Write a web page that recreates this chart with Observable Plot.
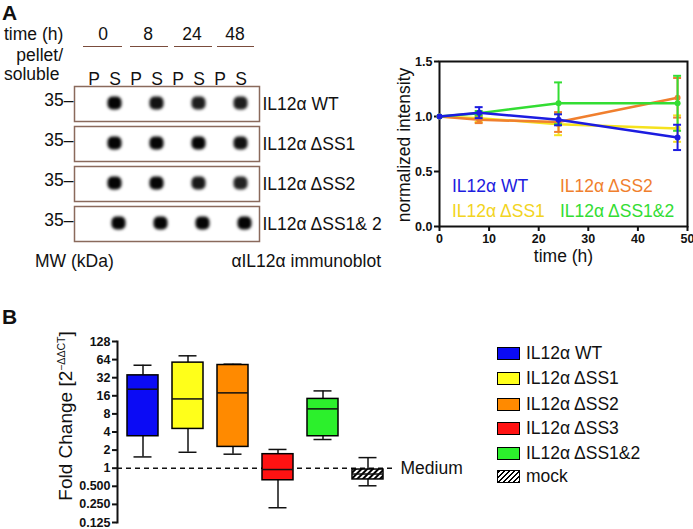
<!DOCTYPE html>
<html><head><meta charset="utf-8">
<script src="https://cdn.jsdelivr.net/npm/d3@7"></script>
<script src="https://cdn.jsdelivr.net/npm/@observablehq/plot@0.6"></script>
<style>
body{margin:0;background:#fff;}
#fig{position:relative;width:693px;height:529px;overflow:hidden;font-family:"Liberation Sans",Arial,Helvetica,sans-serif;color:#111;}
#fig svg{display:block;background:none;max-width:none !important;overflow:visible;}
.lbl{position:absolute;white-space:nowrap;line-height:1;}
</style></head><body><div id="fig"></div>
<script>
// ---------- data ----------
// Panel A blot
const lanes = ["P0","S0","P8","S8","P24","S24","P48","S48"];
const timeLabels = ["0","8","24","48"];
const blotRows = ["WT","ΔSS1","ΔSS2","ΔSS1& 2"];
const bandLanes = ["S0","S8","S24","S48"];
const bandSignal = [[1,0.95,0.9,0.9],[1,1,1,0.95],[1,1,0.92,0.88],[1,1,1,1]];

// Panel A line chart
const times = [0, 8, 24, 48];
const lineSeries = ["IL12α WT","IL12α ΔSS1","IL12α ΔSS2","IL12α ΔSS1&2"];
const lineColors = ["#1c1ce0","#f5e21e","#f07f2e","#33dd33"];
const wtMean   = [1.00, 1.035, 0.97, 0.81];
const wtErr    = [0, 0.05, 0.05, 0.115];
const ss1Mean  = [1.00, 0.985, 0.93, 0.89];
const ss1Err   = [0, 0.035, 0.10, 0.12];
const ss2Mean  = [1.00, 0.97, 0.95, 1.17];
const ss2Err   = [0, 0.03, 0.09, 0.18];
const ss12Mean = [1.00, 1.03, 1.12, 1.12];
const ss12Err  = [0, 0.02, 0.19, 0.25];

// Panel B box plot
const groups = ["IL12α WT","IL12α ΔSS1","IL12α ΔSS2","IL12α ΔSS3","IL12α ΔSS1&2","mock"];
const boxColors = ["#0b0bf5","#ffff1a","#ff8a00","#ff1212","#2cf02c","url(#hatch)"];
const boxMin    = [1.54, 1.84, 1.71, 0.22, 3.0, 0.51];
const boxQ1     = [3.4, 4.5, 2.26, 0.63, 3.4, 0.65];
const boxMedian = [20.6, 14.2, 17.9, 0.95, 9.7, 0.8];
const boxQ3     = [35, 57, 52, 1.71, 14.2, 0.95];
const boxMax    = [51.6, 74, 53.7, 2.05, 19.3, 1.5];
const foldTicks = [0.125,0.25,0.5,1,2,4,8,16,32,64,128];

// ---------- helpers ----------
const FONT = '"Liberation Sans",Arial,Helvetica,sans-serif';
const FS = 17.5;
const fig = document.getElementById("fig");
function label(html, x, cy, {size=FS, anchor="start", color="#111", weight="normal"}={}) {
  const d = document.createElement("div");
  d.className = "lbl"; d.innerHTML = html;
  d.style.fontSize = size + "px"; d.style.color = color; d.style.fontWeight = weight;
  d.style.left = x + "px"; d.style.top = (cy - size * 0.5) + "px";
  const tx = anchor === "end" ? "-100%" : anchor === "middle" ? "-50%" : "0";
  d.style.transform = `translateX(${tx})`;
  fig.appendChild(d); return d;
}
function vlabel(html, cx, cy, size) {
  const d = document.createElement("div");
  d.className = "lbl"; d.innerHTML = html;
  d.style.cssText += `font-size:${size}px;left:${cx}px;top:${cy}px;transform:translate(-50%,-50%) rotate(-90deg);`;
  fig.appendChild(d); return d;
}
function place(svg, id, x, y, w, h) {
  const wrap = document.createElement("div");
  wrap.id = id;
  wrap.style.cssText = `position:absolute;left:${x}px;top:${y}px;width:${w}px;height:${h}px;`;
  wrap.appendChild(svg); fig.appendChild(wrap);
}

// ---------- Panel A: blot ----------
const bands = blotRows.flatMap((r, i) => bandLanes.map((l, j) => ({row: r, lane: l, v: bandSignal[i][j]})));
const cellOpts = {x: "lane", fy: "row", fill: "#050505", fillOpacity: "v",
  insetLeft: 3.5, insetRight: 3.5, insetTop: 10.5, insetBottom: 11.5, rx: 5};
const blot = Plot.plot({
  width: 400, height: 260, marginLeft: 74, marginRight: 141, marginTop: 85, marginBottom: 17,
  style: {fontFamily: FONT, fontSize: FS + "px", background: "none", color: "#111"},
  x: {domain: lanes, paddingInner: 0, paddingOuter: 0.225, axis: "top", tickSize: 0, tickPadding: 2,
      tickFormat: d => d[0], label: null},
  fy: {domain: blotRows, paddingInner: 0.12, paddingOuter: 0, axis: "right", tickSize: 0, tickPadding: 3,
       tickFormat: d => "IL12α " + d, label: null},
  opacity: {domain: [0, 1]},
  marks: [
    Plot.frame({stroke: "#8a6a5c", strokeWidth: 1.5}),
    Plot.cell(bands.filter(d => d.row !== blotRows[3]), cellOpts),
    Plot.cell(bands.filter(d => d.row === blotRows[3]), {...cellOpts, dx: 4}),
    Plot.text(blotRows, {fy: d => d, text: () => "35–", frameAnchor: "left", textAnchor: "end", dx: -1, dy: -4})
  ]
});
d3.select(blot).selectAll('g[aria-label="cell"]').style("filter", "blur(1.5px)");
place(blot, "blot", 0, 0, 400, 260);

label("A", 2, 12, {size: 21, weight: "bold"});
label("time (h)", 4, 35);
label("pellet/", 63, 56, {anchor: "end"});
label("soluble", 4, 75);
const timeX = [103, 148, 192, 235];
const ulines = [[83,122],[130,168],[174,212],[217,254]];
timeLabels.forEach((t, i) => {
  label(t, timeX[i], 35, {anchor: "middle"});
  const u = document.createElement("div");
  u.style.cssText = `position:absolute;left:${ulines[i][0]}px;top:46px;width:${ulines[i][1]-ulines[i][0]}px;height:0;border-top:1.5px solid #7a4c3c;`;
  fig.appendChild(u);
});
label("MW (kDa)", 35, 262);
label("αIL12α immunoblot", 381, 262, {anchor: "end"});

// ---------- Panel A: line chart ----------
const means = [wtMean, ss1Mean, ss2Mean, ss12Mean];
const errs = [wtErr, ss1Err, ss2Err, ss12Err];
const drawOrder = [1, 2, 3, 0];
const seriesMarks = drawOrder.flatMap(si => {
  const rows = times.map((t, k) => ({t, m: means[si][k], e: errs[si][k]}));
  const eb = rows.filter(d => d.e > 0);
  const c = lineColors[si];
  return [
    Plot.line(rows, {x: "t", y: "m", stroke: c, strokeWidth: 2.5}),
    Plot.ruleX(eb, {x: "t", y1: d => d.m - d.e, y2: d => d.m + d.e, stroke: c, strokeWidth: 2}),
    Plot.ruleY(eb, {y: d => d.m - d.e, x1: d => d.t - 0.8, x2: d => d.t + 0.8, stroke: c, strokeWidth: 2}),
    Plot.ruleY(eb, {y: d => d.m + d.e, x1: d => d.t - 0.8, x2: d => d.t + 0.8, stroke: c, strokeWidth: 2}),
    Plot.dot(rows, {x: "t", y: "m", fill: c, r: 3})
  ];
});
const lineChart = Plot.plot({
  width: 313, height: 240, marginLeft: 59, marginRight: 6, marginTop: 21, marginBottom: 54,
  style: {fontFamily: FONT, fontSize: "12.5px", background: "none", color: "#111"},
  x: {domain: [0, 50]},
  y: {domain: [0, 1.5]},
  marks: [
    Plot.axisX({ticks: [0,10,20,30,40,50], tickSize: 5, tickPadding: 3, strokeWidth: 2, fontWeight: "bold", label: null}),
    Plot.axisY({ticks: [0,0.5,1,1.5], tickFormat: d3.format(".1f"), tickSize: 5, tickPadding: 2, strokeWidth: 2, fontWeight: "bold", label: null}),
    Plot.frame({strokeWidth: 2}),
    ...seriesMarks,
    Plot.text(["time (h)"], {frameAnchor: "bottom", dy: 35, fontSize: FS})
  ]
});
place(lineChart, "line", 380, 40, 313, 240);
vlabel("normalized intensity", 405, 145, FS);

label(lineSeries[0], 452, 187, {color: lineColors[0]});
label(lineSeries[2], 560, 187, {color: lineColors[2]});
label(lineSeries[1], 452, 212, {color: "#f2d422"});
label(lineSeries[3], 560, 212, {color: lineColors[3]});

// ---------- Panel B: box plot ----------
const boxRows = groups.map((g, i) => ({g, min: boxMin[i], q1: boxQ1[i], med: boxMedian[i], q3: boxQ3[i], max: boxMax[i], fill: boxColors[i]}));
const boxChart = Plot.plot({
  width: 470, height: 209, marginLeft: 117, marginRight: 78, marginTop: 21, marginBottom: 7,
  style: {fontFamily: FONT, fontSize: "12.5px", background: "none", color: "#111"},
  x: {domain: groups, paddingInner: 0.32, paddingOuter: 0.16, axis: null},
  y: {type: "log", base: 2, domain: [0.125, 128]},
  color: {type: "identity"},
  marks: [
    Plot.axisY({ticks: foldTicks, tickFormat: d => d < 1 ? d3.format(".3f")(d) : String(d),
      tickSize: 5, tickPadding: 2, strokeWidth: 2, fontWeight: "bold", label: null}),
    Plot.frame({anchor: "left", strokeWidth: 2}),
    Plot.ruleY([1], {strokeDasharray: "5,4", strokeWidth: 1.5}),
    Plot.ruleX(boxRows, {x: "g", y1: "min", y2: "q1", strokeWidth: 1.5}),
    Plot.ruleX(boxRows, {x: "g", y1: "q3", y2: "max", strokeWidth: 1.5}),
    Plot.tickY(boxRows, {x: "g", y: "min", strokeWidth: 1.5, insetLeft: 6.5, insetRight: 6.5}),
    Plot.tickY(boxRows, {x: "g", y: "max", strokeWidth: 1.5, insetLeft: 6.5, insetRight: 6.5}),
    Plot.barY(boxRows, {x: "g", y1: "q1", y2: "q3", fill: "fill", stroke: "black", strokeWidth: 1.5}),
    Plot.tickY(boxRows, {x: "g", y: "med", strokeWidth: 1.5}),
    Plot.text([1], {y: d => d, text: () => "Medium", frameAnchor: "right", textAnchor: "start", dx: 8, fontSize: FS})
  ]
});
d3.select(boxChart).insert("defs", ":first-child").html(
  '<pattern id="hatch" patternUnits="userSpaceOnUse" width="4" height="4" patternTransform="rotate(45)">' +
  '<rect width="4" height="4" fill="white"/><rect width="2" height="4" fill="black"/></pattern>');
place(boxChart, "box", 0, 320, 470, 209);

label("B", 2, 316, {size: 21, weight: "bold"});
vlabel('Fold Change [2<sup style="font-size:10.5px;vertical-align:7px">−ΔΔCT</sup>]', 65, 416, 19);

const legY = [354, 379, 405, 429, 454, 477];
groups.forEach((g, i) => {
  const s = document.createElement("div");
  const bg = i === 5 ? "repeating-linear-gradient(135deg,#000 0 1.6px,#fff 1.6px 3.6px)" : boxColors[i];
  s.style.cssText = `position:absolute;left:497px;top:${legY[i]-7}px;width:21px;height:11px;border:1.5px solid #000;background:${bg};`;
  fig.appendChild(s);
  label(g, 526, legY[i]);
});
</script></body></html>
